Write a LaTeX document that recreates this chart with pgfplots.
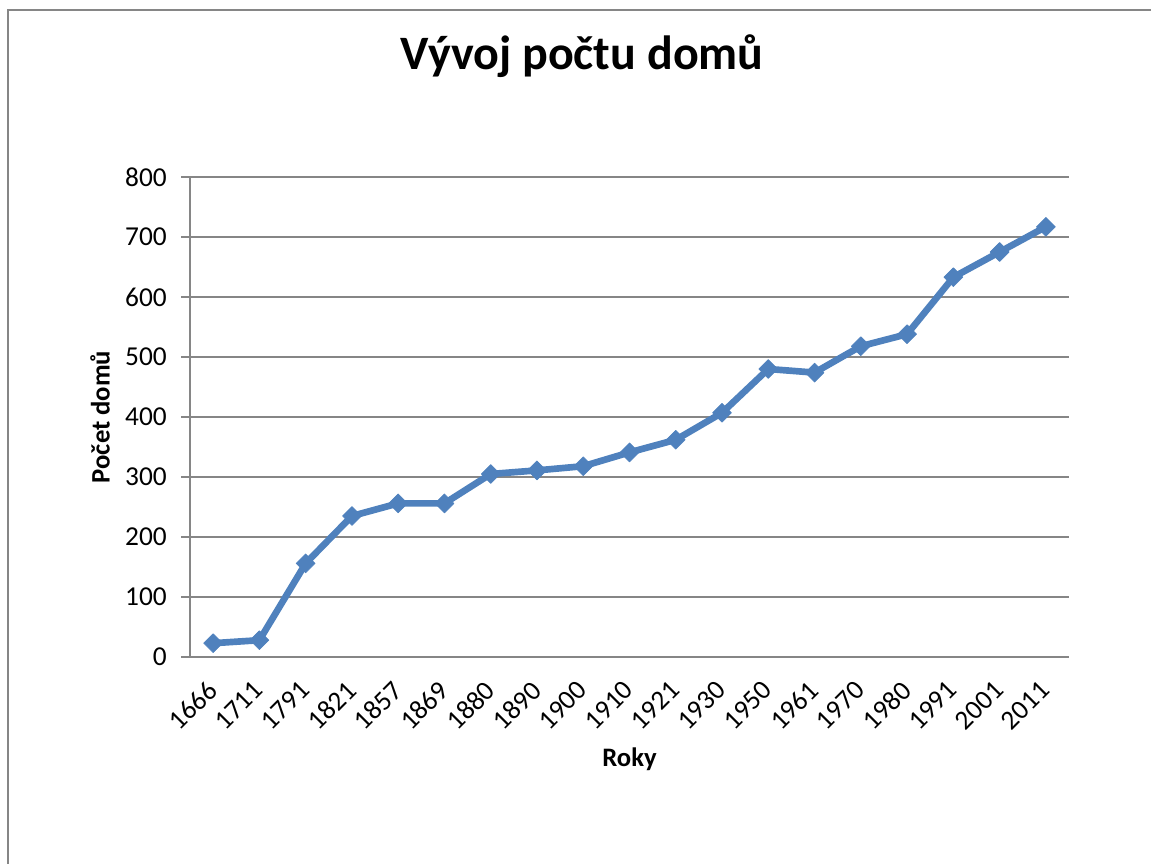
\documentclass[border=0pt]{standalone}
\usepackage{fontspec}
\setmainfont{Carlito}
\usepackage{pgfplots}
\pgfplotsset{compat=1.18}
\definecolor{lineblue}{HTML}{4F81BD}
\definecolor{gridgray}{HTML}{868686}
\begin{document}
\begin{tikzpicture}
\useasboundingbox (0,0) rectangle (863.25pt,647.25pt);
\clip (0,0) rectangle (863.25pt,647.25pt);
\draw[gridgray, line width=1pt] (6pt,-10pt) -- (6pt,639.75pt) -- (880pt,639.75pt);
\node[font=\fontsize{36}{42}\selectfont\bfseries, anchor=base, inner sep=0pt] at (436.5pt,594.75pt) {Vývoj počtu domů};
\begin{axis}[
  at={(142.5pt,154.5pt)}, anchor=south west,
  scale only axis, width=659.25pt, height=360pt,
  xmin=-0.5, xmax=18.5, ymin=0, ymax=800,
  ytick={0,100,...,800},
  xtick={0,...,18},
  xticklabels={1666,1711,1791,1821,1857,1869,1880,1890,1900,1910,1921,1930,1950,1961,1970,1980,1991,2001,2011},
  axis x line*=bottom, axis y line*=left,
  ymajorgrids,
  major grid style={gridgray, line width=1pt},
  axis line style={gridgray, line width=1pt},
  tick style={gridgray, line width=1pt},
  major tick length=6.75pt,
  tick align=outside,
  xtick style={draw=none},
  /pgf/number format/assume math mode=true,
  tick label style={font=\fontsize{20.5}{24}\selectfont, text=black},
  yticklabel style={anchor=east, inner sep=0pt, xshift=-10.5pt},
  xticklabel style={xshift=-5.5pt, yshift=-9.75pt, rotate=45, anchor=north east, inner sep=0pt},
  xlabel={Roky},
  ylabel={Počet domů},
  label style={font=\fontsize{20}{24}\selectfont\bfseries},
  xlabel style={at={(axis description cs:0.5,-0.229)}, anchor=base, inner sep=0pt},
  ylabel style={at={(axis description cs:-0.1024,0.5)}, anchor=center, inner sep=0pt},
]
\addplot[lineblue, line width=5pt, line join=round, mark=square*, mark size=5pt,
  mark options={rotate=45, fill=lineblue, draw=lineblue, line width=0.5pt}]
coordinates {
(0,23)(1,28)(2,156)(3,235)(4,256)(5,256)(6,305)(7,311)(8,318)(9,341)
(10,362)(11,407)(12,480)(13,474)(14,518)(15,538)(16,633)(17,675)(18,717)
};
\end{axis}
\end{tikzpicture}
\end{document}
